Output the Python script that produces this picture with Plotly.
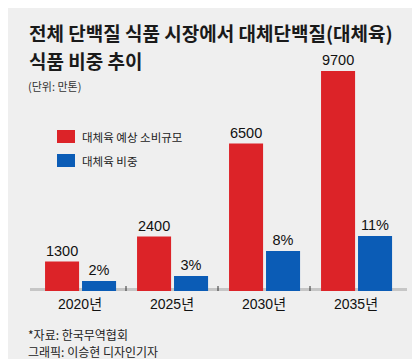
import plotly.graph_objects as go

years = ["2020년", "2025년", "2030년", "2035년"]
consumption = [1300, 2400, 6500, 9700]   # 만톤
share = [2, 3, 8, 11]                    # %

title_lines = ["전체 단백질 식품 시장에서 대체단백질(대체육)", "식품 비중 추이"]
unit_text = "(단위: 만톤)"
legend_names = ["대체육 예상 소비규모", "대체육 비중"]
source_lines = ["*자료: 한국무역협회", "그래픽: 이승현 디자인기자"]

RED = "#dc2328"
BLUE = "#0b5cb6"
BG = "#efefef"
NUM_FONT = "Liberation Sans, Arial, Noto Sans CJK KR, sans-serif"
KR_FONT = "Noto Sans CJK KR, sans-serif"

FW, FH = 420, 359
L, T, W, H = 26, 30, 368, 253


def px(x):
    return (x - L) / W


def py(y):
    return (T + H - y) / H


fig = go.Figure()
fig.add_trace(go.Bar(
    x=years, y=consumption, name=legend_names[0],
    marker=dict(color=RED, line=dict(width=0)),
    width=0.37, offset=-0.38,
    text=[str(v) for v in consumption], textposition="outside",
    textfont=dict(family=NUM_FONT, size=14.5, color="#111"),
    cliponaxis=False, yaxis="y", showlegend=False,
))
fig.add_trace(go.Bar(
    x=years, y=share, name=legend_names[1],
    marker=dict(color=BLUE, line=dict(width=0)),
    width=0.37, offset=0.022,
    text=[f"{v}%" for v in share], textposition="outside",
    textfont=dict(family=NUM_FONT, size=14.5, color="#111"),
    cliponaxis=False, yaxis="y2", showlegend=False,
))

shapes = []
shapes.append(dict(type="line", xref="paper", yref="paper",
                   x0=px(22), x1=px(399), y0=py(281.5), y1=py(281.5),
                   line=dict(color="#c6c6c6", width=3), layer="below"))
for b in [0.5, 1.5, 2.5]:
    shapes.append(dict(type="line", xref="x", yref="y", x0=b, x1=b,
                       ysizemode="pixel", yanchor=0, y0=0, y1=5,
                       line=dict(color="#333", width=1)))
for i, c in enumerate([RED, BLUE]):
    top = 122 + i * 24
    shapes.append(dict(type="rect", xref="paper", yref="paper",
                       x0=px(49), x1=px(67), y0=py(top + 13), y1=py(top),
                       fillcolor=c, line=dict(width=0)))

annotations = []
for i, line in enumerate(title_lines):
    annotations.append(dict(text=f"<b>{line}</b>", xref="paper", yref="paper",
                            x=px(19), y=py(25 + i * 27), xanchor="left", yanchor="middle",
                            showarrow=False, font=dict(family=KR_FONT, size=19, color="#1a1a1a")))
annotations.append(dict(text=unit_text, xref="paper", yref="paper",
                        x=px(18), y=py(78), xanchor="left", yanchor="middle",
                        showarrow=False, font=dict(family=KR_FONT, size=11, color="#333")))
for i, name in enumerate(legend_names):
    annotations.append(dict(text=name, xref="paper", yref="paper",
                            x=px(72), y=py(129 + i * 24), xanchor="left", yanchor="middle",
                            showarrow=False, font=dict(family=KR_FONT, size=11.5, color="#222")))
for i, line in enumerate(source_lines):
    annotations.append(dict(text=line, xref="paper", yref="paper",
                            x=px(18), y=py(326 + i * 17), xanchor="left", yanchor="middle",
                            showarrow=False, font=dict(family=KR_FONT, size=12, color="#222")))

fig.update_layout(
    width=FW, height=FH,
    margin=dict(l=L, r=FW - L - W, t=T, b=FH - T - H),
    paper_bgcolor=BG, plot_bgcolor=BG,
    barmode="overlay",
    xaxis=dict(type="category", range=[-0.5, 3.5], showgrid=False, zeroline=False,
               showline=False, ticks="", ticklabelstandoff=3,
               tickfont=dict(family=NUM_FONT, size=14, color="#111")),
    yaxis=dict(range=[0, 11157], visible=False, showgrid=False, zeroline=False),
    yaxis2=dict(range=[0, 50.6], overlaying="y", visible=False, showgrid=False, zeroline=False),
    shapes=shapes, annotations=annotations, showlegend=False,
)

fig.write_html("out.html")
